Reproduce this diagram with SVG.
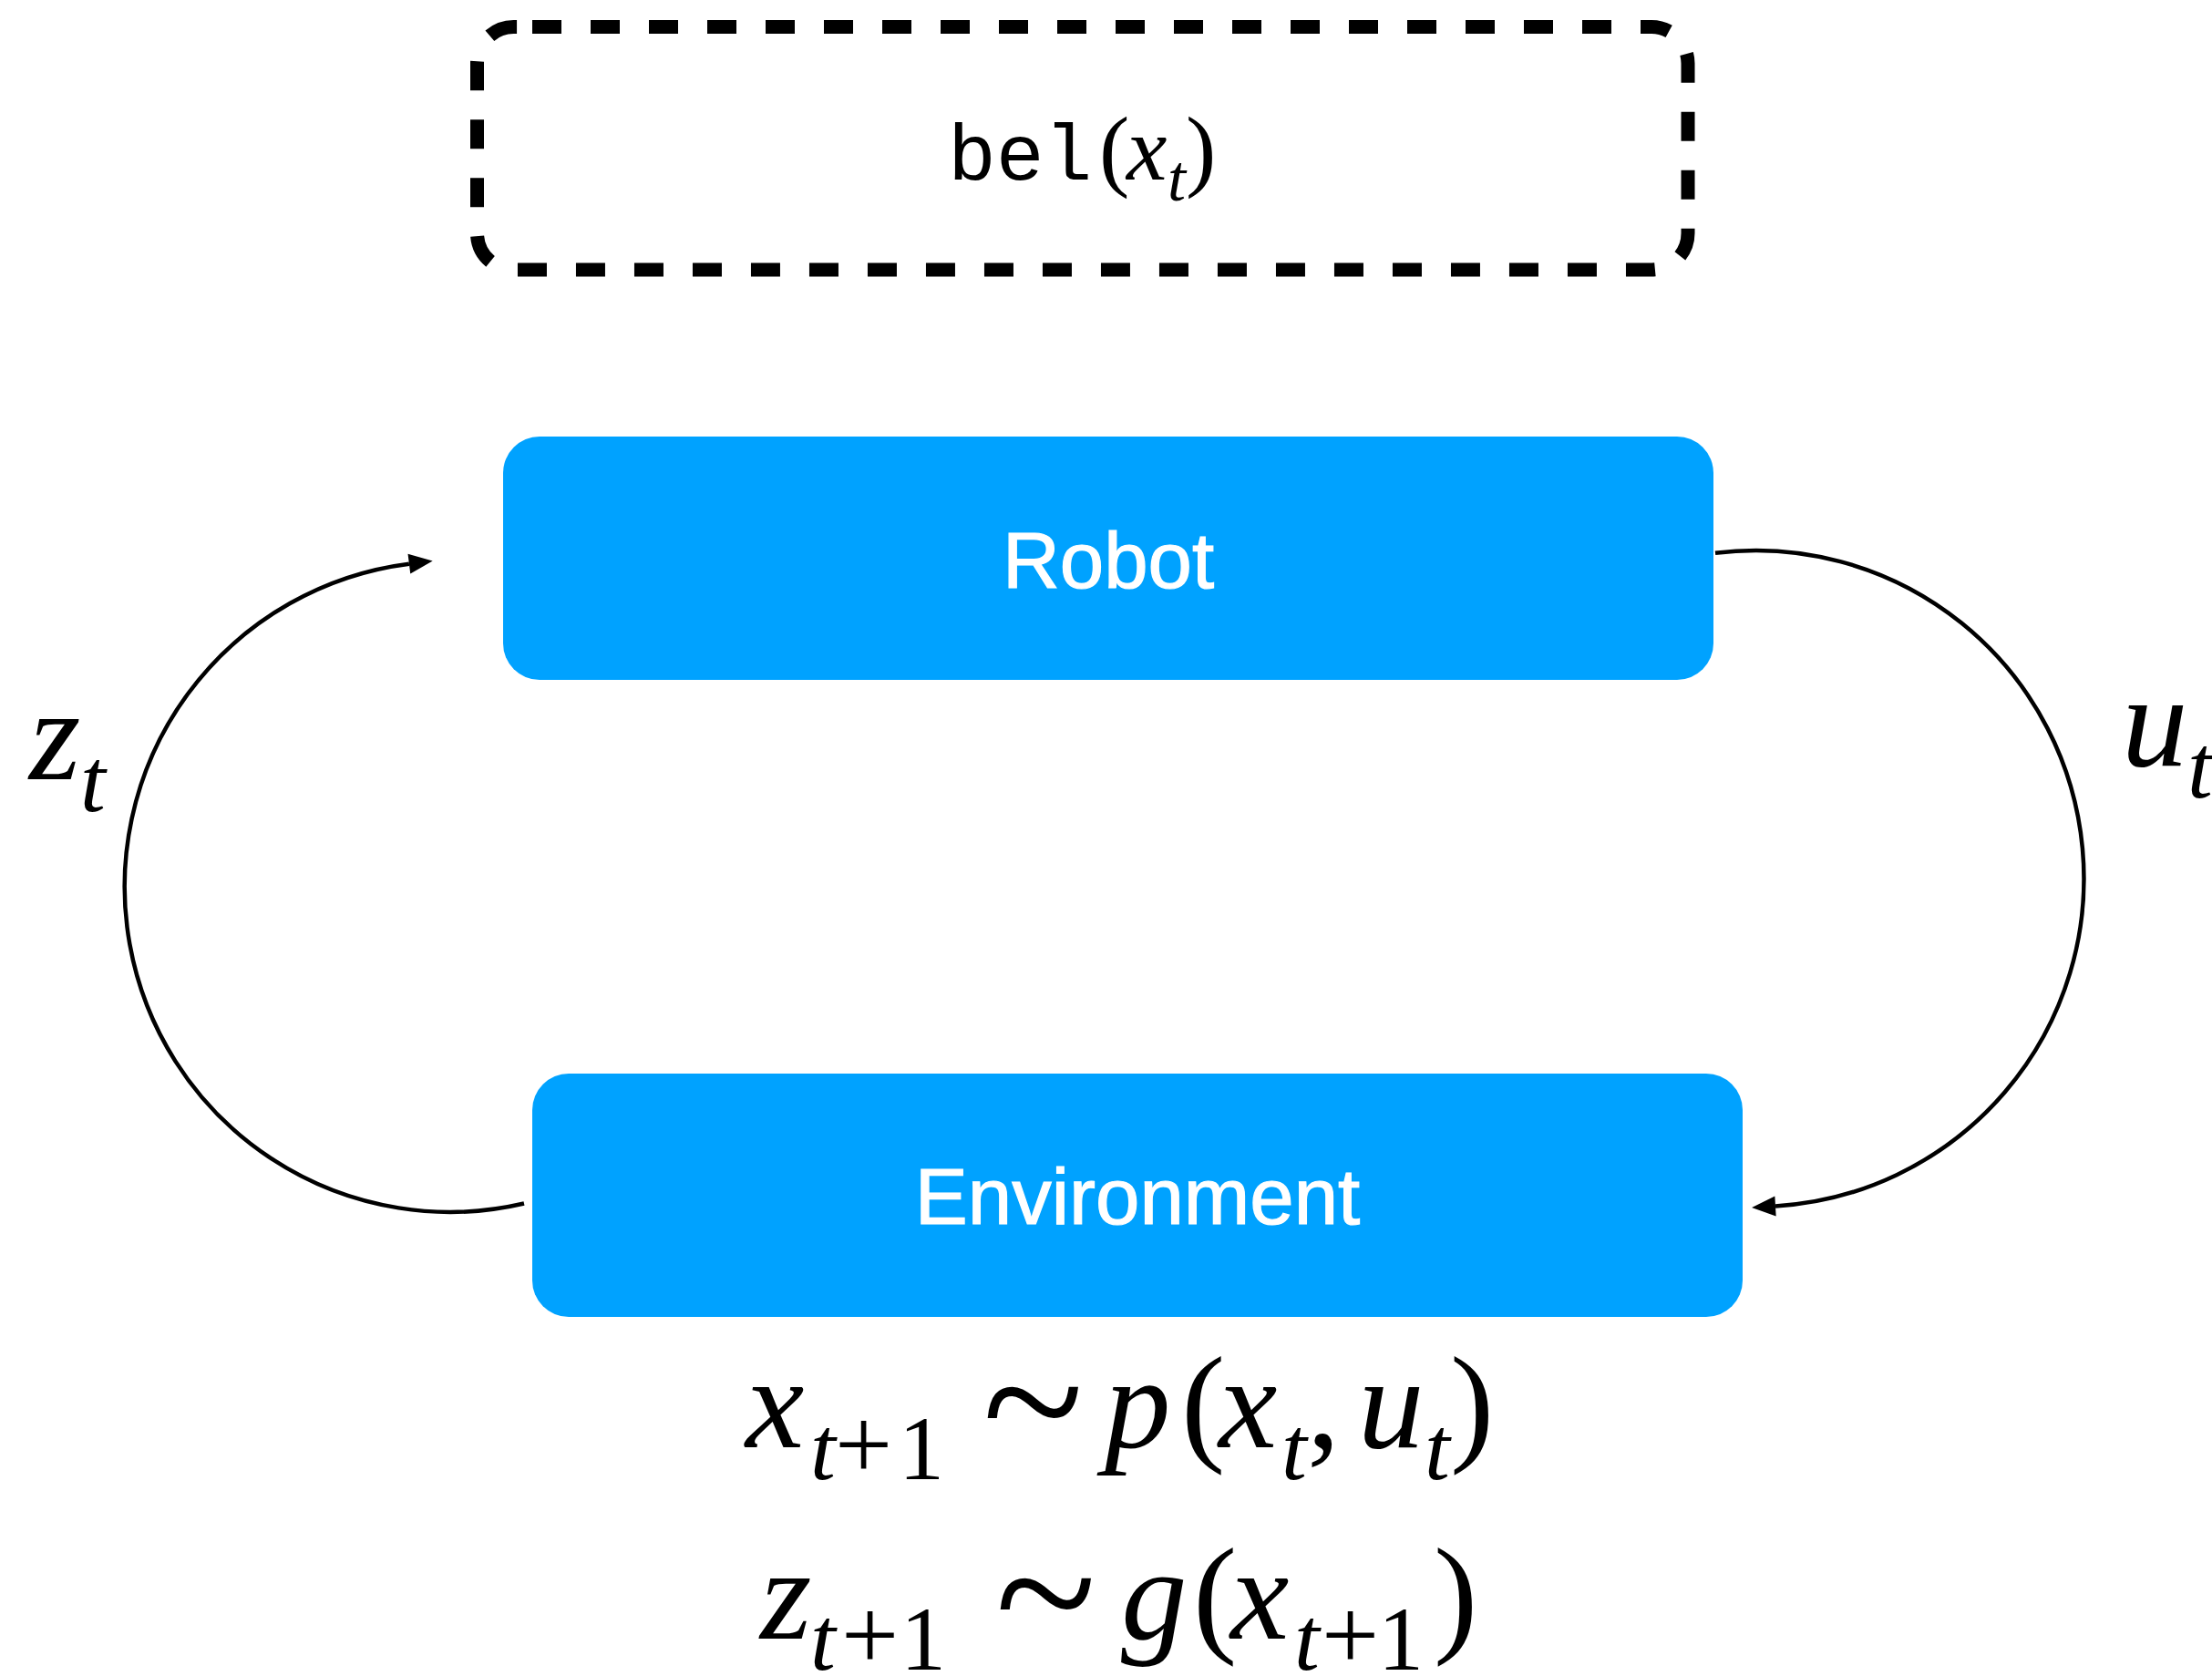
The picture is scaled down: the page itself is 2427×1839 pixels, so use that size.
<svg xmlns="http://www.w3.org/2000/svg" width="2427" height="1839" viewBox="0 0 2427 1839">
<style>
.box{fill:#00A2FF}
.lbl{font-family:"Liberation Sans",Arial,sans-serif;font-size:87px;fill:#fff;stroke:#fff;stroke-width:1.2px;text-anchor:middle}
.m{font-family:"Liberation Serif","Times New Roman",serif;fill:#000}
.i{font-style:italic}
.conn{fill:none;stroke:#000;stroke-width:4.5}
</style>
<defs>
<marker id="ah" markerUnits="userSpaceOnUse" markerWidth="26" markerHeight="22" refX="0" refY="11" orient="auto" overflow="visible">
<path d="M0,0 L26,11 L0,22 z" fill="#000"/>
</marker>
</defs>
<rect width="2427" height="1839" fill="#fff"/>
<g id="belief">
<path d="M584,29.5 L1812,29.5 A40,40 0 0 1 1852,69.5 L1852,256 A40,40 0 0 1 1812,296 L563.5,296 A40,40 0 0 1 523.5,256 L523.5,69.5 A40,40 0 0 1 563.5,29.5 L584,29.5" fill="none" stroke="#000" stroke-width="15" stroke-dasharray="32 32"/>
<text class="m" y="197"><tspan x="1040" font-family="'Liberation Mono','Courier New',monospace" font-size="88">bel</tspan><tspan x="1206" font-size="100">(</tspan><tspan x="1236" font-size="100" class="i">x</tspan><tspan x="1281" y="220" font-size="72" class="i">t</tspan><tspan x="1301" y="197" font-size="100">)</tspan></text>
</g>
<g id="robot">
<rect class="box" x="552" y="479" width="1328" height="267" rx="40" ry="40"/>
<text class="lbl" x="1216" y="645">Robot</text>
</g>
<g id="environment">
<rect class="box" x="584" y="1178" width="1328" height="267" rx="40" ry="40"/>
<text class="lbl" x="1248" y="1343">Environment</text>
</g>
<g id="connectors">
<path class="conn" d="M575,1320.5 A357,357 0 1 1 448.9,618.7" marker-end="url(#ah)"/>
<path class="conn" d="M1882,606.8 A360,360 0 1 1 1948,1323.4" marker-end="url(#ah)"/>
</g>
<g id="labels">
<text class="m" y="855"><tspan x="32" font-size="145" class="i">z</tspan><tspan x="88" y="890" font-size="100" class="i">t</tspan></text>
<text class="m" y="840"><tspan x="2328" font-size="145" class="i">u</tspan><tspan x="2400" y="875" font-size="100" class="i">t</tspan></text>
</g>
<g id="equations">
<text class="m" y="1588"><tspan x="818" font-size="145" class="i">x</tspan><tspan x="889" y="1623" font-size="100" class="i">t</tspan><tspan x="916" font-size="112">+</tspan><tspan x="986" font-size="100">1</tspan><tspan x="1078" y="1606" font-size="205">~</tspan><tspan x="1212" y="1588" font-size="145" class="i">p</tspan><tspan x="1296" font-size="145">(</tspan><tspan x="1337" font-size="145" class="i">x</tspan><tspan x="1406" y="1623" font-size="100" class="i">t</tspan><tspan x="1434" y="1588" font-size="145">,</tspan><tspan x="1490" font-size="145" class="i">u</tspan><tspan x="1563" y="1623" font-size="100" class="i">t</tspan><tspan x="1591" y="1588" font-size="145">)</tspan></text>
<text class="m" y="1798"><tspan x="834" font-size="145" class="i">z</tspan><tspan x="889" y="1832" font-size="100" class="i">t</tspan><tspan x="923" font-size="112">+</tspan><tspan x="988" font-size="100">1</tspan><tspan x="1092" y="1816" font-size="205">~</tspan><tspan x="1230" y="1798" font-size="145" class="i">g</tspan><tspan x="1309" font-size="145">(</tspan><tspan x="1350" font-size="145" class="i">x</tspan><tspan x="1420" y="1832" font-size="100" class="i">t</tspan><tspan x="1450" font-size="112">+</tspan><tspan x="1512" font-size="100">1</tspan><tspan x="1573" y="1798" font-size="145">)</tspan></text>
</g>
</svg>
